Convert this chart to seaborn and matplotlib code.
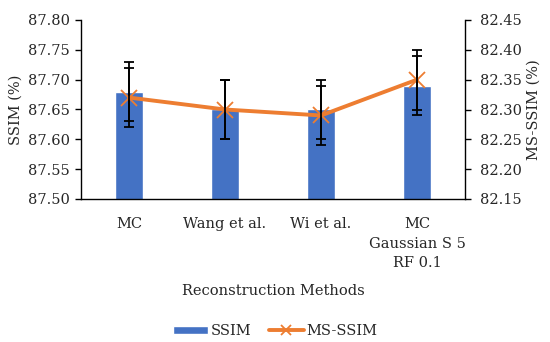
import matplotlib
matplotlib.use("Agg")
import matplotlib.pyplot as plt
import seaborn as sns
import numpy as np
import pandas as pd
from matplotlib.lines import Line2D
from matplotlib.patches import Patch

categories = ["MC", "Wang et al.", "Wi et al.", "MC\nGaussian S 5\nRF 0.1"]
ssim = [87.68, 87.65, 87.65, 87.69]
ssim_err = [0.05, 0.05, 0.05, 0.05]
msssim = [82.32, 82.30, 82.29, 82.35]
msssim_err = [0.05, 0.05, 0.05, 0.05]
left_ticks = [87.50, 87.55, 87.60, 87.65, 87.70, 87.75, 87.80]
right_ticks = [82.15, 82.20, 82.25, 82.30, 82.35, 82.40, 82.45]

sns.set_style("white")
plt.rcParams['font.family'] = ['DejaVu Serif']
plt.rcParams['font.size'] = 10.5

bar_color = "#4472C4"
line_color = "#ED7D31"

fig = plt.figure(figsize=(5.5, 3.42), dpi=100)
ax = fig.add_axes([81/550, 1 - 199/342, 384/550, 179/342])
df = pd.DataFrame({"method": categories, "ssim": ssim})
sns.barplot(data=df, x="method", y="ssim", color=bar_color, width=0.30,
            saturation=1, ax=ax, errorbar=None)
xpos = np.arange(len(categories))
ax.errorbar(xpos, ssim, yerr=ssim_err, fmt="none", ecolor="black",
            elinewidth=1.3, capsize=3.5, capthick=1.3, zorder=5)
ax.set_ylim(87.50, 87.80)
ax.set_yticks(left_ticks)
ax.set_yticklabels([f"{v:.2f}" for v in left_ticks])
ax.set_xlim(-0.5, len(categories) - 0.5)
ax.set_ylabel("SSIM (%)", labelpad=4)
ax.set_xlabel("Reconstruction Methods", labelpad=10)
ax.set_xticks(xpos)
ax.set_xticklabels(categories, linespacing=1.5)
ax.tick_params(axis="x", length=0, pad=13)
ax.set_xticks(np.arange(-0.5, len(categories)), minor=True)
ax.tick_params(axis="x", which="minor", length=5, width=1, color="black", direction="out")
ax.tick_params(axis="y", length=4, width=1, color="black", direction="out", left=True, pad=4)

ax2 = ax.twinx()
ax2.plot(xpos, msssim, color=line_color, lw=2.8, marker="x", markersize=11,
         markeredgewidth=1.3, zorder=4)
ax2.errorbar(xpos, msssim, yerr=msssim_err, fmt="none", ecolor="black",
             elinewidth=1.3, capsize=3.5, capthick=1.3, zorder=6)
ax2.set_ylim(82.15, 82.45)
ax2.set_yticks(right_ticks)
ax2.set_yticklabels([f"{v:.2f}" for v in right_ticks])
ax2.set_ylabel("MS-SSIM (%)", labelpad=3)
ax2.tick_params(axis="y", length=4, width=1, color="black", direction="out", right=True, pad=7)

for a in (ax, ax2):
    a.spines["top"].set_visible(False)
    for s in ("left", "right", "bottom"):
        a.spines[s].set_color("black")
        a.spines[s].set_linewidth(1)
ax.spines["right"].set_visible(False)
ax2.spines["left"].set_visible(False)
ax2.spines["bottom"].set_visible(False)

handles = [Patch(facecolor=bar_color, label="SSIM"),
           Line2D([0], [0], color=line_color, lw=2.8, marker="x", markersize=7,
                  markeredgewidth=1.3, label="MS-SSIM")]
fig.legend(handles=handles, loc="center", bbox_to_anchor=(0.5, 1 - 331/342), ncol=2,
           frameon=False, handlelength=2.4, handleheight=0.5, columnspacing=1.2,
           handletextpad=0.2)

fig.savefig("out.png", dpi=100)
